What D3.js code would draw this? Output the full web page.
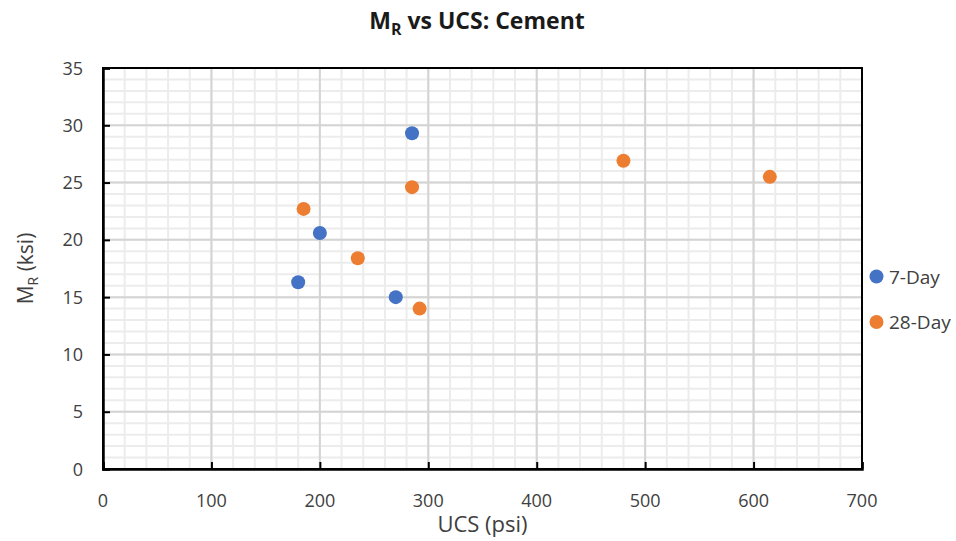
<!DOCTYPE html>
<html>
<head>
<meta charset="utf-8">
<script src="https://cdn.jsdelivr.net/npm/d3@7"></script>
<style>
  body { margin: 0; background: #fff; }
  text { font-family: "Open Sans", "Liberation Sans", sans-serif; fill: #404040; }
</style>
</head>
<body>
<div id="chart"></div>
<script>
// UCS (psi) and MR (ksi)
var day7Ucs = [285, 200, 180, 270];
var day7Mr = [29.3, 20.6, 16.3, 15.0];
var day28Ucs = [285, 185, 235, 292, 480, 615];
var day28Mr = [24.6, 22.7, 18.4, 14.0, 26.9, 25.5];
var seriesNames = ["7-Day", "28-Day"];
var xTicks = [0, 100, 200, 300, 400, 500, 600, 700];
var yTicks = [0, 5, 10, 15, 20, 25, 30, 35];

var colors = ["#4472C4", "#ED7D31"];
var W = 956, H = 541;
var margin = {top: 68, right: 94, bottom: 72, left: 103};

var series = [
  {name: seriesNames[0], pts: day7Ucs.map(function (u, i) { return [u, day7Mr[i]]; })},
  {name: seriesNames[1], pts: day28Ucs.map(function (u, i) { return [u, day28Mr[i]]; })}
];

var svg = d3.select("#chart").append("svg")
  .attr("width", W)
  .attr("height", H);

var x = d3.scaleLinear().domain([0, 700]).range([margin.left, W - margin.right]);
var y = d3.scaleLinear().domain([0, 35]).range([H - margin.bottom, margin.top]);

// minor grid
svg.append("g").selectAll("line")
  .data(d3.range(0, 701, 20))
  .enter().append("line")
  .attr("x1", function (d) { return x(d); }).attr("x2", function (d) { return x(d); })
  .attr("y1", y(0)).attr("y2", y(35))
  .attr("stroke", "#ececec").attr("stroke-width", 2);
svg.append("g").selectAll("line")
  .data(d3.range(0, 36, 1))
  .enter().append("line")
  .attr("y1", function (d) { return y(d); }).attr("y2", function (d) { return y(d); })
  .attr("x1", x(0)).attr("x2", x(700))
  .attr("stroke", "#ececec").attr("stroke-width", 2);

// major grid
svg.append("g").selectAll("line")
  .data(xTicks)
  .enter().append("line")
  .attr("x1", function (d) { return x(d); }).attr("x2", function (d) { return x(d); })
  .attr("y1", y(0)).attr("y2", y(35))
  .attr("stroke", "#d4d4d4").attr("stroke-width", 2);
svg.append("g").selectAll("line")
  .data(yTicks)
  .enter().append("line")
  .attr("y1", function (d) { return y(d); }).attr("y2", function (d) { return y(d); })
  .attr("x1", x(0)).attr("x2", x(700))
  .attr("stroke", "#d4d4d4").attr("stroke-width", 2);

// frame
svg.append("rect")
  .attr("x", x(0)).attr("y", y(35))
  .attr("width", x(700) - x(0)).attr("height", y(0) - y(35))
  .attr("fill", "none").attr("stroke", "#000").attr("stroke-width", 2);

// axes, ticks pointing inward
var xAxis = svg.append("g")
  .attr("transform", "translate(0," + y(0) + ")")
  .call(d3.axisTop(x).tickValues(xTicks).tickSize(7).tickFormat(""));
var yAxis = svg.append("g")
  .attr("transform", "translate(" + x(0) + ",0)")
  .call(d3.axisRight(y).tickValues(yTicks).tickSize(7).tickFormat(""));
[xAxis, yAxis].forEach(function (a) {
  a.select(".domain").attr("stroke", "#000").attr("stroke-width", 2.5);
  a.selectAll(".tick line").attr("stroke", "#000").attr("stroke-width", 2);
});

// tick labels
svg.append("g").selectAll("text")
  .data(xTicks)
  .enter().append("text")
  .attr("x", function (d) { return x(d); })
  .attr("y", y(0) + 38)
  .attr("text-anchor", "middle")
  .style("font-size", "18px")
  .text(function (d) { return d; });
svg.append("g").selectAll("text")
  .data(yTicks)
  .enter().append("text")
  .attr("x", x(0) - 20)
  .attr("y", function (d) { return y(d) + 6.5; })
  .attr("text-anchor", "end")
  .style("font-size", "18px")
  .text(function (d) { return d; });

// points
series.forEach(function (s, i) {
  svg.append("g").selectAll("circle")
    .data(s.pts)
    .enter().append("circle")
    .attr("cx", function (d) { return x(d[0]); })
    .attr("cy", function (d) { return y(d[1]); })
    .attr("r", 7)
    .attr("fill", colors[i]);
});

// title
var title = svg.append("text")
  .attr("x", 477).attr("y", 29)
  .attr("text-anchor", "middle")
  .style("font-size", "23px").style("font-weight", "bold")
  .style("fill", "#1a1a1a");
title.append("tspan").text("M");
title.append("tspan").attr("dy", 6).style("font-size", "16px").text("R");
title.append("tspan").attr("dy", -6).text(" vs UCS: Cement");

// axis titles
svg.append("text")
  .attr("x", x(350)).attr("y", 532)
  .attr("text-anchor", "middle")
  .style("font-size", "22px")
  .text("UCS (psi)");
var yl = svg.append("text")
  .attr("transform", "translate(33," + ((y(0) + y(35)) / 2) + ") rotate(-90)")
  .attr("text-anchor", "middle")
  .style("font-size", "21px");
yl.append("tspan").text("M");
yl.append("tspan").attr("dy", 5).style("font-size", "14px").text("R");
yl.append("tspan").attr("dy", -5).text(" (ksi)");

// legend
var legend = svg.append("g").selectAll("g")
  .data(series)
  .enter().append("g")
  .attr("transform", function (d, i) { return "translate(876.5," + (276.5 + i * 45.5) + ")"; });
legend.append("circle").attr("r", 7).attr("fill", function (d, i) { return colors[i]; });
legend.append("text")
  .attr("x", 12.5).attr("y", 7)
  .style("font-size", "19px")
  .text(function (d) { return d.name; });
</script>
</body>
</html>
